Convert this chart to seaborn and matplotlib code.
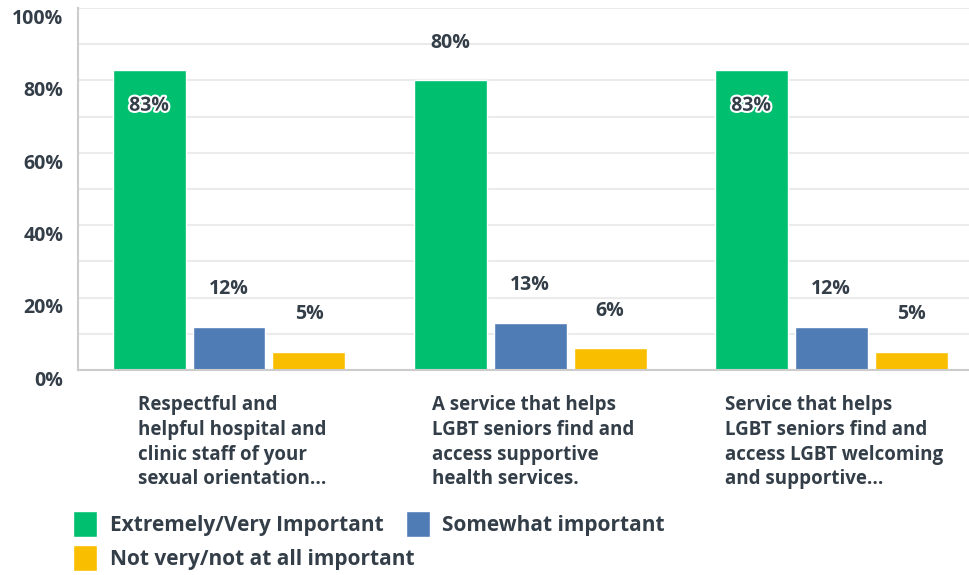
import matplotlib
matplotlib.use("Agg")
import matplotlib.pyplot as plt
import matplotlib.patheffects as pe
import matplotlib.transforms as mtransforms
import pandas as pd
import seaborn as sns

# data
categories = [
    "Respectful and\nhelpful hospital and\nclinic staff of your\nsexual orientation...",
    "A service that helps\nLGBT seniors find and\naccess supportive\nhealth services.",
    "Service that helps\nLGBT seniors find and\naccess LGBT welcoming\nand supportive...",
]
series = ["Extremely/Very Important", "Somewhat important", "Not very/not at all important"]
extremely = [83, 80, 83]
somewhat = [12, 13, 12]
not_very = [5, 6, 5]
yticks = [0, 20, 40, 60, 80, 100]

colors = ["#00bf6f", "#507cb6", "#f9be00"]
text_col = "#333e48"

rows = []
for name, vals in zip(series, [extremely, somewhat, not_very]):
    for cat, v in zip(categories, vals):
        rows.append({"Question": cat, "Answer": name, "Percent": v})
df = pd.DataFrame(rows)

sns.set_theme(style="white")
plt.rcParams["font.family"] = ["Open Sans", "DejaVu Sans"]

fig = plt.figure(figsize=(9.69, 5.75), dpi=100)
ax = fig.add_axes([0.081, 0.3565, 0.932, 0.6295])

sns.barplot(data=df, x="Question", y="Percent", hue="Answer", palette=colors,
            width=0.797, gap=0.0875, saturation=1, ax=ax, legend=True)

ax.set_ylim(0, 100)
ax.set_xlim(-0.5, 2.5)
ax.set_yticks(yticks)
ax.set_yticklabels([f"{t}%" for t in yticks], fontsize=14, color=text_col, fontweight="bold")
ax.set_yticks(range(0, 101, 10), minor=True)
ax.grid(axis="y", which="both", color="#ebebeb", linewidth=1.5)
ax.set_axisbelow(True)
ax.tick_params(axis="y", which="both", length=0, pad=11)
ax.tick_params(axis="x", length=0, pad=18)
ax.set_xticks(range(len(categories)))
ax.set_xticklabels(categories, fontsize=13.5, color=text_col, fontweight="bold",
                   multialignment="left", linespacing=1.32, va="top")
ax.set_xlabel("")
ax.set_ylabel("")
for s in ["top", "right"]:
    ax.spines[s].set_visible(False)
ax.spines["left"].set_color("#cccccc")
ax.spines["bottom"].set_color("#cccccc")
ax.spines["left"].set_linewidth(1.5)
ax.spines["bottom"].set_linewidth(1.5)

# value labels
for ci, cont in enumerate(ax.containers):
    for bar in cont:
        h = bar.get_height()
        x = bar.get_x() + bar.get_width() / 2
        if ci == 0 and h >= 82:
            ax.annotate(f"{h:.0f}%", (x, h), xytext=(0, -26), textcoords="offset points",
                        ha="center", va="center", fontsize=14, color=text_col, fontweight="bold",
                        path_effects=[pe.withStroke(linewidth=3, foreground="white")])
        else:
            ax.annotate(f"{h:.0f}%", (x, h), xytext=(0, 27), textcoords="offset points",
                        ha="center", va="center", fontsize=14, color=text_col, fontweight="bold")

handles, labels = ax.get_legend_handles_labels()
ax.get_legend().remove()
order = [0, 2, 1]  # row-major fill: two entries on the first row
fig.legend([handles[i] for i in order], [labels[i] for i in order],
           loc="upper left", bbox_to_anchor=(0.067, 0.125), ncol=2,
           frameon=False, handlelength=1.15, handleheight=1.5,
           handletextpad=0.6, columnspacing=-0.4, labelspacing=0.4, borderaxespad=0,
           prop={"size": 15, "weight": "bold"}, labelcolor=text_col)

# y labels sit a little below their grid lines in the original
shift = mtransforms.ScaledTranslation(0, -6 / 72, fig.dpi_scale_trans)
for tick in ax.yaxis.get_major_ticks():
    tick.label1.set_transform(tick.label1.get_transform() + shift)
# category text blocks start slightly further right
xshift = mtransforms.ScaledTranslation(3 / 100, 0, fig.dpi_scale_trans)
for tick in ax.xaxis.get_major_ticks():
    tick.label1.set_transform(tick.label1.get_transform() + xshift)

fig.savefig("out.png", dpi=100)
